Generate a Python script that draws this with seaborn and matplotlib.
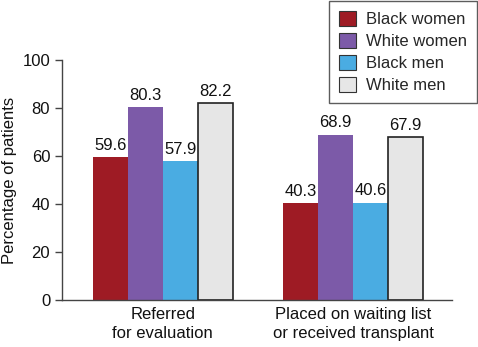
import matplotlib
matplotlib.use("Agg")
import matplotlib.pyplot as plt
import seaborn as sns
import pandas as pd
from matplotlib.patches import Patch

categories = ["Referred\nfor evaluation", "Placed on waiting list\nor received transplant"]
groups = ["Black women", "White women", "Black men", "White men"]
black_women = [59.6, 40.3]
white_women = [80.3, 68.9]
black_men = [57.9, 40.6]
white_men = [82.2, 67.9]

colors = ["#9E1B24", "#7C5AA8", "#4AACE2", "#E6E6E6"]

rows = []
for g, vals in zip(groups, [black_women, white_women, black_men, white_men]):
    for c, v in zip(categories, vals):
        rows.append({"category": c, "group": g, "value": v})
df = pd.DataFrame(rows)

sns.set_style("ticks")
plt.rcParams['font.family'] = ['Liberation Sans', 'DejaVu Sans']

fig = plt.figure(figsize=(4.78, 3.47), dpi=100)
ax = fig.add_axes([62/478, 1-300/347, (452-62)/478, 240/347])

sns.barplot(data=df, x="category", y="value", hue="group", order=categories,
            hue_order=groups, palette=colors, width=0.737, ax=ax,
            legend=False, saturation=1, linewidth=0)

for cont, g in zip(ax.containers, groups):
    for bar in cont:
        if g == "White men":
            bar.set_edgecolor("#222222")
            bar.set_linewidth(1.2)
        else:
            bar.set_edgecolor(bar.get_facecolor())
            bar.set_linewidth(0)
    ax.bar_label(cont, fmt="%.1f", padding=3, fontsize=12, color="#111111")

ax.set_ylim(0, 100)
ax.set_xlim(-0.53, 1.52)
ax.set_yticks([0, 20, 40, 60, 80, 100])
ax.tick_params(axis="y", labelsize=12, length=5, width=1, color="#444444", colors="#111111")
ax.tick_params(axis="x", labelsize=12, length=0, pad=5, colors="#111111")
for lbl in ax.get_xticklabels():
    lbl.set_linespacing(1.3)
ax.set_xlabel("")
ax.set_ylabel("Percentage of patients", fontsize=12, color="#111111")
ax.yaxis.set_label_coords(-0.115, 0.5)
sns.despine(ax=ax)
for s in ["left", "bottom"]:
    ax.spines[s].set_color("#444444")
    ax.spines[s].set_linewidth(1)

handles = [Patch(facecolor=c, edgecolor="#333333", linewidth=0.8) for c in colors]
leg = fig.legend(handles, groups, loc="upper right", bbox_to_anchor=(477/478, 1 - 1/347),
                 fontsize=12, frameon=True, fancybox=False, handlelength=1.0,
                 handleheight=1.0, handletextpad=0.6, labelspacing=0.35,
                 borderpad=0.6, borderaxespad=0)
leg.get_frame().set_edgecolor("#333333")
leg.get_frame().set_linewidth(1)

fig.savefig("out.png", dpi=100)
